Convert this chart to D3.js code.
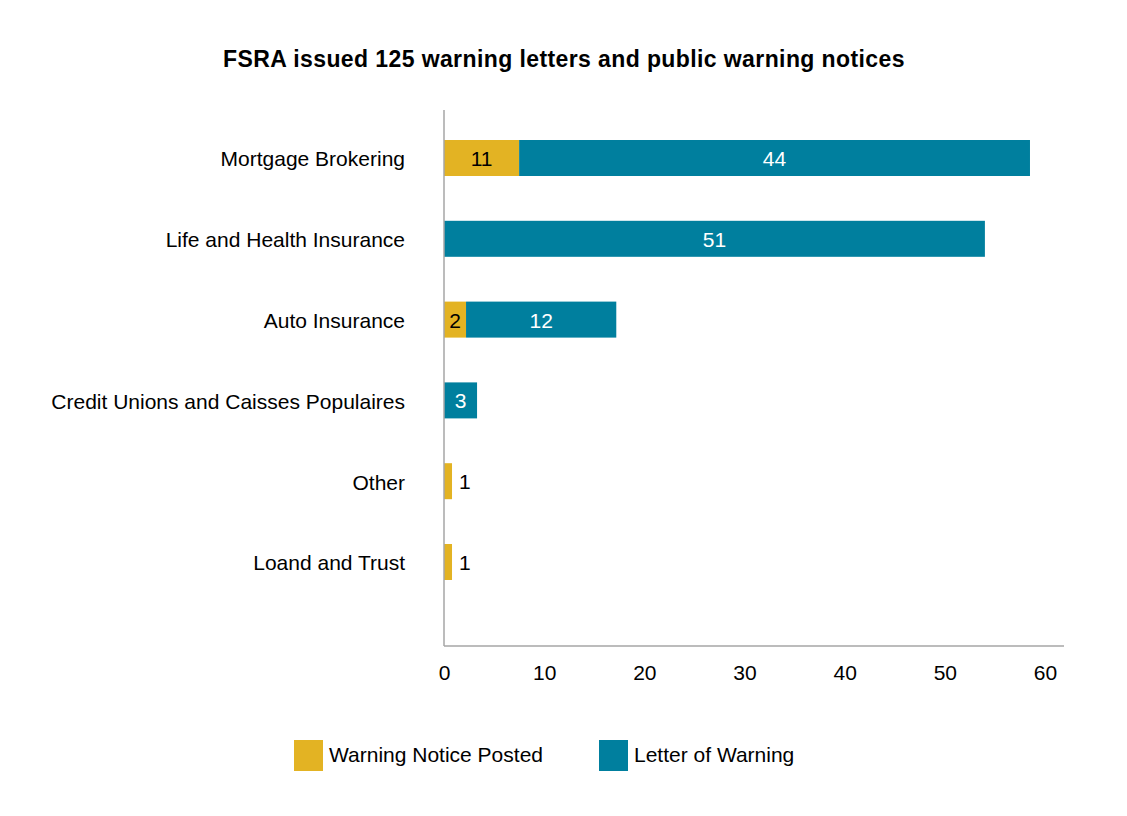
<!DOCTYPE html>
<html>
<head>
<meta charset="utf-8">
<script src="https://cdn.jsdelivr.net/npm/d3@7"></script>
<style>
  body { margin: 0; background: #fff; }
  svg text { font-family: "Liberation Sans", Arial, sans-serif; }
</style>
</head>
<body>
<svg id="chart" width="1127" height="816"></svg>
<script>
// categories, top to bottom
var categories = [
    "Mortgage Brokering",
    "Life and Health Insurance",
    "Auto Insurance",
    "Credit Unions and Caisses Populaires",
    "Other",
    "Loand and Trust"
];
// bar lengths as drawn in the picture
var noticeValues = [7.5, 0, 2.2, 0, 0.8, 0.8];
var letterValues = [51.0, 54.0, 15.0, 3.3, 0, 0];
// numbers printed on the bars
var noticeLabels = [11, null, 2, null, 1, 1];
var letterLabels = [44, 51, 12, 3, null, null];
var xTicks = [0, 10, 20, 30, 40, 50, 60];
var seriesNames = ["Warning Notice Posted", "Letter of Warning"];

var GOLD = "#e3b323";
var TEAL = "#007f9e";
var AXIS_GRAY = "#a6a6a6";
var BAR_H = 36;
var FONT = "21px";

var svg = d3.select("#chart");

var x = d3.scaleLinear().domain([0, 60]).range([444, 1045]);
var y = d3.scalePoint().domain(categories).range([158, 562]);

/* Title */
svg.append("text")
    .attr("x", 564)
    .attr("y", 67)
    .attr("text-anchor", "middle")
    .style("font-size", "23px")
    .style("font-weight", "bold")
    .style("letter-spacing", "0.4px")
    .text("FSRA issued 125 warning letters and public warning notices");

var rows = categories.map(function(c, i) {
    return {
        cat: c,
        notice: noticeValues[i],
        letter: letterValues[i],
        noticeLabel: noticeLabels[i],
        letterLabel: letterLabels[i]
    };
});

var bars = svg.append("g").attr("class", "bars");

// gold segment
bars.selectAll("rect.notice")
    .data(rows.filter(function(d) { return d.notice > 0; }))
    .enter().append("rect")
    .attr("class", "notice")
    .attr("x", x(0))
    .attr("y", function(d) { return y(d.cat) - BAR_H / 2; })
    .attr("width", function(d) { return x(d.notice) - x(0); })
    .attr("height", BAR_H)
    .attr("fill", GOLD);

// teal segment, stacked after gold
bars.selectAll("rect.letter")
    .data(rows.filter(function(d) { return d.letter > 0; }))
    .enter().append("rect")
    .attr("class", "letter")
    .attr("x", function(d) { return x(d.notice); })
    .attr("y", function(d) { return y(d.cat) - BAR_H / 2; })
    .attr("width", function(d) { return x(d.notice + d.letter) - x(d.notice); })
    .attr("height", BAR_H)
    .attr("fill", TEAL);

// value labels
var labels = svg.append("g").attr("class", "labels")
    .style("font-size", FONT);

labels.selectAll("text.notice")
    .data(rows.filter(function(d) { return d.noticeLabel != null; }))
    .enter().append("text")
    .attr("class", "notice")
    .attr("x", function(d) {
        // tiny bars get their label outside
        return d.notice < 1.5 ? x(d.notice) + 7 : x(d.notice / 2);
    })
    .attr("y", function(d) { return y(d.cat) + 8; })
    .attr("text-anchor", function(d) { return d.notice < 1.5 ? "start" : "middle"; })
    .attr("fill", "#000")
    .text(function(d) { return d.noticeLabel; });

labels.selectAll("text.letter")
    .data(rows.filter(function(d) { return d.letterLabel != null; }))
    .enter().append("text")
    .attr("class", "letter")
    .attr("x", function(d) { return x(d.notice + d.letter / 2); })
    .attr("y", function(d) { return y(d.cat) + 8; })
    .attr("text-anchor", "middle")
    .attr("fill", "#fff")
    .text(function(d) { return d.letterLabel; });

/* Axes */
svg.append("line")
    .attr("x1", x(0)).attr("x2", x(0))
    .attr("y1", 110).attr("y2", 646)
    .attr("stroke", AXIS_GRAY).attr("stroke-width", 1.5);
svg.append("line")
    .attr("x1", x(0)).attr("x2", 1064)
    .attr("y1", 646).attr("y2", 646)
    .attr("stroke", AXIS_GRAY).attr("stroke-width", 1.5);

var xAxis = svg.append("g")
    .attr("transform", "translate(0,646)")
    .call(d3.axisBottom(x).tickValues(xTicks).tickSize(0).tickPadding(19));
xAxis.select(".domain").remove();
xAxis.selectAll("text")
    .style("font-family", "'Liberation Sans', Arial, sans-serif")
    .style("font-size", FONT)
    .attr("fill", "#000");

var yAxis = svg.append("g")
    .attr("transform", "translate(" + x(0) + ",0)")
    .call(d3.axisLeft(y).tickSize(0).tickPadding(39));
yAxis.select(".domain").remove();
yAxis.selectAll("text")
    .attr("dy", "0.38em")
    .style("font-family", "'Liberation Sans', Arial, sans-serif")
    .style("font-size", FONT)
    .attr("fill", "#000");

/* Legend */
var legendX = [294, 599];
var legend = svg.append("g").attr("class", "legend");
var items = legend.selectAll("g")
    .data(seriesNames)
    .enter().append("g")
    .attr("transform", function(d, i) { return "translate(" + legendX[i] + ",740)"; });
items.append("rect")
    .attr("width", 29)
    .attr("height", 31)
    .attr("fill", function(d, i) { return i == 0 ? GOLD : TEAL; });
items.append("text")
    .attr("x", 35)
    .attr("y", 22)
    .style("font-size", FONT)
    .text(function(d) { return d; });
</script>
</body>
</html>
